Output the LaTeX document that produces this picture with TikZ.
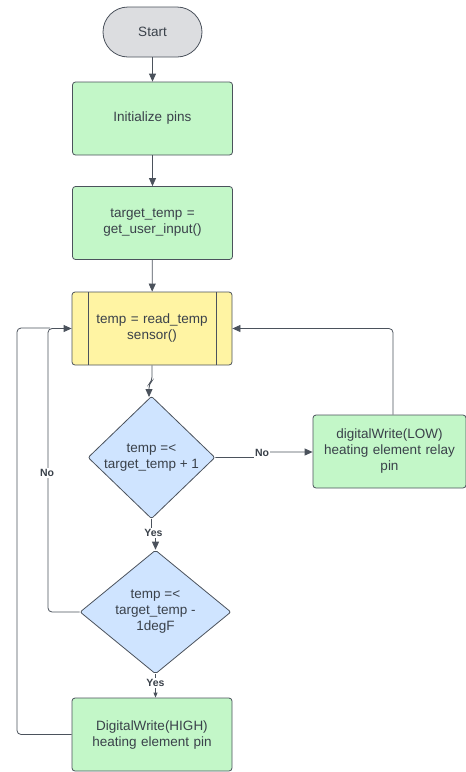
\documentclass[tikz,border=0pt]{standalone}
\usepackage{fontspec}
\setmainfont{Liberation Sans}
\usetikzlibrary{shapes.geometric,arrows.meta}
\definecolor{edge}{HTML}{4B525C}
\definecolor{ink}{HTML}{3A414A}
\definecolor{greenfill}{HTML}{C3F7C8}
\definecolor{yellowfill}{HTML}{FFF4A3}
\definecolor{bluefill}{HTML}{CFE4FF}
\definecolor{grayfill}{HTML}{DCDDE0}
\tikzset{
  base/.style={draw=edge, line width=0.8pt, text=ink, align=center,
    font=\fontsize{13.5}{16}\selectfont, inner sep=2pt},
  process/.style={base, rectangle, rounded corners=3pt, fill=greenfill,
    minimum width=160pt, minimum height=73pt, text width=150pt},
  terminal/.style={base, rectangle, rounded corners=25pt, fill=grayfill,
    minimum width=99pt, minimum height=50pt},
  subproc/.style={base, rectangle, rounded corners=3pt, fill=yellowfill,
    minimum width=160pt, minimum height=73pt, text width=130pt},
  decision/.style={base, diamond, fill=bluefill, inner sep=0pt, rounded corners=2pt},
  flow/.style={draw=edge, line width=0.8pt, rounded corners=4pt,
    -{Triangle[length=8pt,width=7pt]}},
  plainline/.style={draw=edge, line width=0.8pt, rounded corners=4pt},
  lbl/.style={fill=white, text=ink, font=\bfseries\fontsize{10.5}{12}\selectfont,
    inner sep=1pt}
}
\begin{document}
\begin{tikzpicture}[x=1pt,y=-1pt]
\useasboundingbox (0,0) rectangle (466,772);

% shapes
\node[terminal] (start) at (152.5,32) {Start};
\node[process] (init) at (152.5,118.5) {Initialize pins};
\node[process] (target) at (152.5,223) {target\_temp =\\get\_user\_input()};
\node[subproc] (read) at (152,328.5) {temp = read\_temp\\sensor()};
\draw[edge, line width=0.8pt] (88,292) -- (88,365) (216,292) -- (216,365);
\node[decision, minimum width=127pt, minimum height=121pt] (d1) at (151.5,457.5)
  {temp =<\\target\_temp + 1};
\node[decision, minimum width=151pt, minimum height=120pt] (d2) at (155.5,612)
  {temp =<\\target\_temp -\\1degF};
\node[process, minimum width=153pt, text width=145pt] (low) at (389.5,451.5)
  {digitalWrite(LOW)\\heating element relay\\pin};
\node[process] (high) at (152,734.5) {DigitalWrite(HIGH)\\heating element pin};

% main sequence
\draw[flow] (start) -- (init);
\draw[flow] (init) -- (target);
\draw[flow] (target) -- (read);
\draw[flow] (read.south) -- (152,381) -- (149,384) -- (149,397);

% first test
\draw[flow, rounded corners=0pt] (d1.south) -- (151.5,528) -- (155.5,538) -- (d2.north);
\node[lbl] (yes1) at (153.5,533) {Yes};
\draw[flow, rounded corners=0pt] (d1.east) -- (257,457.5) -- (262,452) -- (low.west |- 0,452);
\node[lbl] (no1) at (262,453) {No};

% relay off returns to reading
\draw[flow] ([xshift=3.5pt]low.north) |- (read.east);

% second test
\draw[flow, -{Triangle[length=5pt,width=4pt]}] (d2.south) -- (d2.south |- high.north);
\node[lbl] (yes2) at (155.5,683) {Yes};
\draw[flow] (d2.west) -| (48,380) |- (read.west);
\node[lbl] (no2) at (47,473) {No};

% heater on returns to reading
\draw[plainline] (high.west) -| (17,328) -- (50,328);
\end{tikzpicture}
\end{document}
